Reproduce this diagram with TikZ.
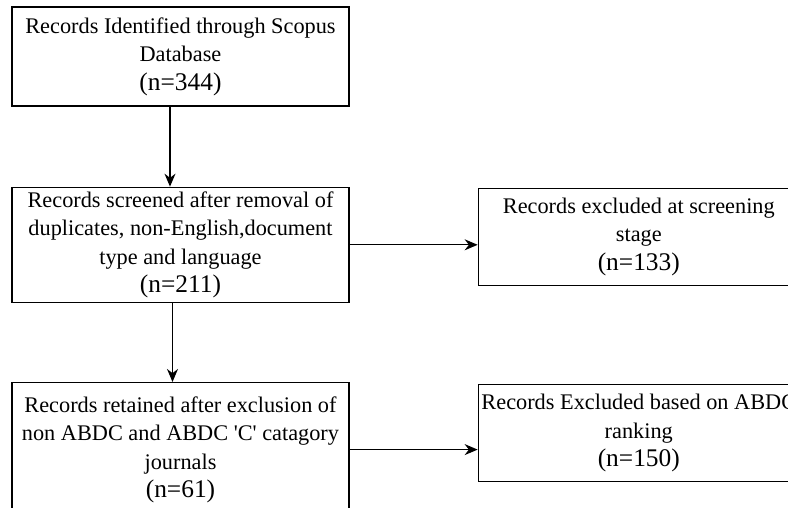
\documentclass[tikz,border=0pt]{standalone}
\usepackage{fontspec}
\setmainfont{Liberation Serif}
\usetikzlibrary{positioning,arrows.meta}

\newcommand{\ncount}[1]{{\fontsize{25.4}{30}\selectfont #1}}

\begin{document}
\begin{tikzpicture}[
		stage/.style={rectangle, draw=black, line width=1.3pt, minimum width=337pt, inner sep=2pt, align=center, font=\fontsize{22.3}{28.5}\selectfont},
		excl/.style={rectangle, draw=black, line width=1.3pt, minimum width=321pt, minimum height=97pt, inner sep=0pt, align=center, font=\fontsize{22.3}{28.5}\selectfont},
		flow/.style={-{Stealth[length=13pt, width=11pt]}, line width=1.3pt},
		]
		\useasboundingbox (0,0) rectangle (788pt,-507pt);
		\clip (0,0) rectangle (788pt,-507pt);

		%Main Nodes
		\node[stage, minimum height=99pt]	(ident)	at (180.5pt,-56.5pt)	{Records Identified through Scopus\\ Database\\ \ncount{(n=344)}};
		\node[stage, minimum height=115pt]	(screen)	[below=80pt of ident]	{Records screened after removal of\\ duplicates, non-English,document\\ type and language\\ \ncount{(n=211)}};
		\node[stage, minimum height=134pt]	(retain)	[below=79pt of screen]	{Records retained after exclusion of\\ non ABDC and ABDC \textquotesingle C\textquotesingle\ catagory\\ journals\\ \ncount{(n=61)}};

		%Exclusions
		\node[excl]	(excl_screen)	[right=128pt of screen, yshift=8pt]	{Records excluded at screening\\ stage\\ \ncount{(n=133)}};
		\node[excl]	(excl_abdc)	[right=128pt of retain, yshift=16.5pt]	{Records Excluded based on ABDC\\ ranking\\ \ncount{(n=150)}};

		%Arrows
		\draw[flow]	([xshift=-10.5pt]ident.south)	--	([xshift=-10.5pt]screen.north);
		\draw[flow]	([xshift=-8pt]screen.south)	--	([xshift=-8pt]retain.north);
		\draw[flow]	(screen.east)	--	(screen.east -| excl_screen.west);
		\draw[flow]	(retain.east)	--	(retain.east -| excl_abdc.west);
	\end{tikzpicture}
\end{document}
